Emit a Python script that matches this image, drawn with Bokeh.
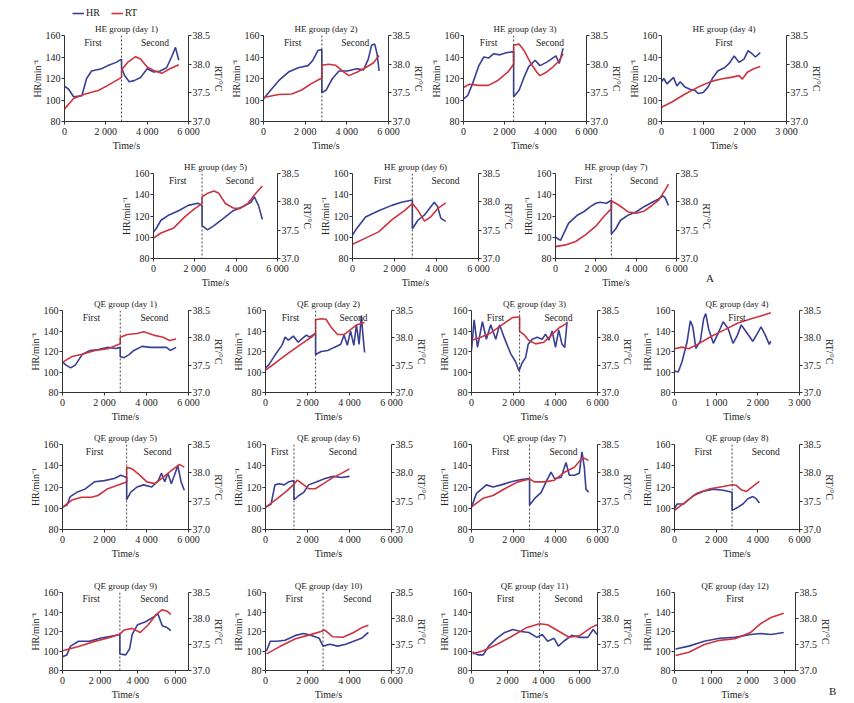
from bokeh.plotting import figure
from bokeh.layouts import column, row
from bokeh.models import Range1d, LinearAxis, FixedTicker, Span, Label, Spacer, Legend, LegendItem, Div
from bokeh.embed import file_html
from bokeh.resources import INLINE

BLUE = "#393f95"
RED = "#cc3440"
INK = "#222222"
FONT = "Liberation Serif"

# ---- axis ticks ----
x_ticks_long = [0, 2000, 4000, 6000]
x_labels_long = ["0", "2 000", "4 000", "6 000"]
x_ticks_short = [0, 1000, 2000, 3000]
x_labels_short = ["0", "1 000", "2 000", "3 000"]
hr_ticks = [80, 100, 120, 140, 160]
rt_ticks = [37.0, 37.5, 38.0, 38.5]
rt_labels = ["37.0", "37.5", "38.0", "38.5"]

# ---- panels: days, split between "First" and "Second", time span ----
he_days = [1, 2, 3, 4, 5, 6, 7]
he_split = [2760, 2800, 2445, None, 2350, 2850, 2770]
he_xmax = [6000, 6000, 6000, 3000, 6000, 6000, 6000]
qe_days = [1, 2, 3, 4, 5, 6, 7, 8, 9, 10, 11, 12]
qe_split = [2750, 2385, 2290, None, 3055, 1355, 2765, 2765, 3050, 2740, 3783, None]
qe_xmax = [6000, 6000, 6000, 3000, 6000, 6000, 6000, 6000, 6700, 6000, 7000, 3300]

# ---- HE group ----
he1_hr_t = [0, 200, 440, 840, 1070, 1310, 1790, 2100, 2500, 2760, 2760, 2900, 3130, 3370, 3680, 4000, 4310, 4630, 4940, 5180, 5370, 5530]
he1_hr = [113, 110, 103, 104, 120, 127, 129, 132, 135, 138, 130, 123, 117, 118, 121, 129, 126, 127, 130, 140, 149, 137]
he1_rt_t = [0, 440, 1000, 1630, 2100, 2760, 2760, 3050, 3440, 3680, 4000, 4310, 4710, 5100, 5530]
he1_rt = [37.22, 37.40, 37.48, 37.54, 37.63, 37.77, 37.90, 38.03, 38.13, 38.09, 37.95, 37.89, 37.84, 37.92, 37.99]

he2_hr_t = [0, 340, 730, 1200, 1670, 2140, 2370, 2610, 2800, 2800, 3000, 3310, 3625, 4015, 4480, 4800, 5030, 5190, 5340, 5450, 5550]
he2_hr = [101, 109, 118, 126, 130, 132, 137, 146, 147, 107, 109, 120, 127, 127, 129, 128, 138, 151, 152, 143, 127]
he2_rt_t = [0, 730, 1360, 1830, 2300, 2800, 2800, 3130, 3470, 3860, 4100, 4480, 4950, 5270, 5550]
he2_rt = [37.42, 37.47, 37.48, 37.55, 37.66, 37.76, 37.98, 38.00, 37.98, 37.86, 37.80, 37.86, 37.95, 38.02, 38.15]

he3_hr_t = [0, 200, 440, 750, 990, 1220, 1460, 1770, 2085, 2445, 2445, 2710, 2950, 3180, 3495, 3730, 4045, 4280, 4510, 4670, 4860]
he3_hr = [101, 104, 115, 132, 140, 139, 143, 142, 144, 145, 103, 109, 121, 131, 137, 132, 135, 138, 141, 134, 148]
he3_rt_t = [0, 280, 750, 1220, 1690, 2160, 2445, 2445, 2710, 2950, 3260, 3575, 3730, 4045, 4360, 4670, 4860]
he3_rt = [37.59, 37.65, 37.63, 37.63, 37.72, 37.86, 38.00, 38.33, 38.35, 38.24, 38.03, 37.86, 37.80, 37.86, 37.95, 38.06, 38.18]

he4_hr_t = [0, 55, 130, 210, 290, 370, 450, 565, 680, 800, 880, 1000, 1115, 1235, 1350, 1510, 1625, 1745, 1860, 1980, 2080, 2175, 2255, 2370]
he4_hr = [117, 120, 115, 118, 121, 113, 117, 112, 110, 109, 106, 107, 112, 121, 127, 130, 134, 141, 135, 138, 146, 143, 140, 144]
he4_rt_t = [0, 250, 565, 880, 1195, 1430, 1665, 1860, 1940, 2060, 2215, 2370]
he4_rt = [37.25, 37.34, 37.48, 37.60, 37.70, 37.74, 37.77, 37.80, 37.74, 37.86, 37.92, 37.96]

he5_hr_t = [0, 125, 360, 750, 1215, 1680, 2150, 2350, 2350, 2615, 2930, 3400, 3860, 4330, 4720, 4880, 5080, 5265]
he5_hr = [105, 108, 116, 121, 125, 130, 132, 130, 111, 107, 111, 118, 125, 129, 133, 138, 130, 117]
he5_rt_t = [0, 360, 980, 1525, 1995, 2350, 2350, 2615, 2930, 3160, 3480, 3860, 4175, 4565, 4880, 5265]
he5_rt = [37.36, 37.45, 37.54, 37.74, 37.88, 37.97, 38.09, 38.15, 38.19, 38.15, 37.97, 37.89, 37.88, 37.97, 38.12, 38.28]

he6_hr_t = [0, 155, 620, 1245, 1870, 2335, 2850, 2850, 3115, 3430, 3740, 3895, 4050, 4205, 4440]
he6_hr = [102, 107, 119, 125, 130, 133, 135, 108, 116, 121, 129, 133, 129, 118, 115]
he6_rt_t = [0, 620, 1245, 1870, 2490, 2850, 3115, 3430, 3740, 4050, 4440]
he6_rt = [37.25, 37.36, 37.47, 37.68, 37.85, 37.97, 37.85, 37.66, 37.74, 37.88, 37.98]

he7_hr_t = [0, 250, 645, 1100, 1400, 1750, 2000, 2200, 2530, 2770, 2770, 2990, 3225, 3620, 4010, 4410, 4800, 5115, 5330, 5440, 5600]
he7_hr = [100, 97, 113, 121, 124, 129, 132, 133, 132, 135, 103, 108, 116, 121, 124, 129, 133, 136, 139, 137, 130]
he7_rt_t = [0, 500, 1000, 1500, 2000, 2400, 2770, 2770, 3150, 3620, 4010, 4410, 4800, 5115, 5440, 5600]
he7_rt = [37.21, 37.24, 37.30, 37.42, 37.57, 37.74, 37.88, 38.02, 37.94, 37.82, 37.80, 37.84, 37.94, 38.03, 38.21, 38.31]

# ---- QE group ----
qe1_hr_t = [0, 155, 390, 620, 930, 1315, 1700, 2165, 2550, 2750, 2750, 2935, 3170, 3400, 3790, 4175, 4640, 4950, 5130, 5410]
qe1_hr = [110, 107, 104, 107, 117, 121, 122, 124, 123, 124, 115, 114, 117, 121, 125, 124, 124, 124, 121, 124]
qe1_rt_t = [0, 460, 930, 1545, 2165, 2750, 2750, 3090, 3555, 3865, 4330, 4790, 5100, 5410]
qe1_rt = [37.55, 37.66, 37.70, 37.77, 37.80, 37.89, 38.01, 38.06, 38.08, 38.11, 38.05, 38.01, 37.95, 37.98]

qe2_hr_t = [0, 155, 470, 780, 935, 1090, 1325, 1560, 1715, 1950, 2100, 2385, 2385, 2650, 2960, 3270, 3585, 3740, 3895, 4050, 4205, 4330, 4455, 4565, 4640, 4720]
qe2_hr = [104, 107, 117, 126, 134, 131, 135, 129, 132, 136, 134, 138, 117, 120, 121, 124, 127, 136, 126, 140, 126, 146, 127, 155, 136, 119]
qe2_rt_t = [0, 470, 1090, 1715, 2180, 2385, 2385, 2650, 2880, 3115, 3430, 3740, 4050, 4360, 4720]
qe2_rt = [37.41, 37.54, 37.72, 37.89, 38.01, 38.08, 38.33, 38.35, 38.34, 38.20, 38.06, 38.06, 38.15, 38.24, 38.28]

qe3_hr_t = [0, 125, 285, 520, 710, 915, 1155, 1340, 1550, 1705, 1865, 2100, 2260, 2415, 2575, 2700, 2890, 3130, 3365, 3525, 3680, 3840, 4000, 4155, 4310, 4440, 4550]
qe3_hr = [121, 151, 124, 149, 132, 146, 132, 146, 134, 126, 118, 110, 101, 109, 114, 127, 132, 134, 132, 137, 131, 140, 124, 141, 127, 124, 149]
qe3_rt_t = [0, 440, 915, 1470, 1945, 2230, 2290, 2290, 2500, 2735, 3050, 3445, 3760, 4155, 4550]
qe3_rt = [37.95, 38.01, 38.09, 38.24, 38.37, 38.38, 38.38, 38.12, 38.06, 37.95, 37.89, 37.92, 38.03, 38.18, 38.27]

qe4_hr_t = [0, 90, 180, 300, 379, 440, 513, 620, 700, 750, 820, 931, 1050, 1168, 1280, 1405, 1500, 1602, 1740, 1878, 1980, 2076, 2180, 2273, 2313]
qe4_hr = [101, 100, 110, 129, 150, 144, 123, 130, 152, 157, 142, 128, 138, 149, 143, 128, 135, 146, 138, 130, 137, 144, 136, 127, 130]
qe4_rt_t = [0, 180, 340, 575, 890, 1210, 1525, 1840, 2075, 2313]
qe4_rt = [37.80, 37.83, 37.80, 37.89, 38.03, 38.15, 38.27, 38.35, 38.40, 38.46]

qe5_hr_t = [0, 215, 370, 680, 1070, 1535, 2000, 2465, 2775, 3055, 3055, 3240, 3550, 3860, 4250, 4560, 4715, 4870, 5020, 5180, 5330, 5490, 5645, 5800]
qe5_hr = [101, 103, 111, 115, 118, 125, 126, 128, 131, 129, 108, 115, 120, 122, 120, 126, 133, 125, 133, 123, 131, 140, 125, 117]
qe5_rt_t = [0, 450, 915, 1380, 1690, 2155, 2620, 3055, 3055, 3320, 3705, 4015, 4400, 4790, 5180, 5565, 5800]
qe5_rt = [37.39, 37.52, 37.57, 37.57, 37.60, 37.72, 37.78, 37.84, 38.10, 38.07, 37.95, 37.84, 37.81, 37.92, 38.04, 38.15, 38.10]

qe6_hr_t = [0, 265, 450, 655, 890, 1120, 1355, 1355, 1590, 1820, 2055, 2445, 2835, 3225, 3615, 4000]
qe6_hr = [101, 104, 122, 123, 122, 125, 126, 108, 112, 115, 122, 125, 128, 130, 129, 130]
qe6_rt_t = [0, 575, 1045, 1355, 1510, 1745, 2055, 2370, 2760, 3225, 3615, 4000]
qe6_rt = [37.39, 37.55, 37.69, 37.80, 37.87, 37.81, 37.72, 37.72, 37.81, 37.92, 37.99, 38.07]

qe7_hr_t = [0, 235, 475, 710, 1025, 1420, 1895, 2370, 2765, 2765, 3000, 3320, 3555, 3790, 3950, 4265, 4500, 4660, 4900, 5135, 5260, 5370, 5450, 5575]
qe7_hr = [101, 114, 118, 122, 120, 122, 125, 127, 128, 103, 109, 115, 125, 134, 128, 129, 143, 131, 131, 133, 153, 139, 118, 115]
qe7_rt_t = [0, 550, 1025, 1580, 2210, 2765, 3000, 3475, 3950, 4425, 4900, 5290, 5575]
qe7_rt = [37.40, 37.55, 37.60, 37.72, 37.84, 37.89, 37.84, 37.84, 37.87, 38.01, 38.10, 38.27, 38.22]

qe8_hr_t = [0, 125, 440, 915, 1390, 1865, 2340, 2765, 2765, 3050, 3285, 3520, 3760, 3920, 4075]
qe8_hr = [100, 104, 104, 112, 116, 118, 117, 115, 98, 101, 104, 109, 111, 109, 105]
qe8_rt_t = [0, 440, 1075, 1705, 2340, 2765, 2970, 3205, 3440, 3760, 4075]
qe8_rt = [37.34, 37.46, 37.64, 37.72, 37.76, 37.79, 37.78, 37.70, 37.67, 37.76, 37.85]

qe9_hr_t = [0, 228, 428, 855, 1425, 1996, 2566, 3050, 3050, 3364, 3564, 3706, 3991, 4419, 4847, 5075, 5303, 5560, 5760]
qe9_hr = [94, 96, 105, 110, 110, 113, 115, 117, 97, 96, 102, 117, 127, 130, 135, 138, 126, 124, 121]
qe9_rt_t = [0, 855, 1710, 2566, 3050, 3279, 3706, 4134, 4562, 4990, 5303, 5560, 5760]
qe9_rt = [37.38, 37.46, 37.56, 37.64, 37.70, 37.78, 37.81, 37.73, 37.88, 38.08, 38.17, 38.14, 38.08]

qe10_hr_t = [50, 225, 550, 930, 1430, 1810, 2185, 2560, 2740, 3065, 3440, 3820, 4195, 4570, 4900]
qe10_hr = [100, 110, 110, 111, 116, 118, 116, 113, 105, 107, 105, 107, 110, 113, 119]
qe10_rt_t = [50, 680, 1430, 2060, 2640, 2815, 3190, 3690, 4195, 4570, 4900]
qe10_rt = [37.32, 37.46, 37.61, 37.68, 37.75, 37.78, 37.65, 37.64, 37.73, 37.82, 37.87]

qe11_hr_t = [60, 357, 655, 953, 1400, 1847, 2294, 2740, 3187, 3634, 3932, 4230, 4587, 4826, 5123, 5570, 6017, 6464, 6762, 6970]
qe11_hr = [99, 96, 96, 105, 113, 119, 122, 120, 119, 114, 117, 110, 113, 105, 110, 116, 114, 114, 122, 117]
qe11_rt_t = [60, 655, 1400, 2145, 3038, 3783, 4230, 4826, 5421, 6017, 6613, 6970]
qe11_rt = [37.32, 37.38, 37.50, 37.64, 37.82, 37.90, 37.88, 37.76, 37.64, 37.67, 37.82, 37.88]

qe12_hr_t = [28, 392, 811, 1230, 1650, 2070, 2350, 2630, 2980]
qe12_hr = [102, 105, 110, 113, 114, 117, 118, 117, 119]
qe12_rt_t = [28, 392, 811, 1230, 1650, 2070, 2350, 2630, 2980]
qe12_rt = [37.29, 37.35, 37.50, 37.58, 37.61, 37.73, 37.90, 38.02, 38.10]

he_series = [
    (he1_hr_t, he1_hr, he1_rt_t, he1_rt), (he2_hr_t, he2_hr, he2_rt_t, he2_rt),
    (he3_hr_t, he3_hr, he3_rt_t, he3_rt), (he4_hr_t, he4_hr, he4_rt_t, he4_rt),
    (he5_hr_t, he5_hr, he5_rt_t, he5_rt), (he6_hr_t, he6_hr, he6_rt_t, he6_rt),
    (he7_hr_t, he7_hr, he7_rt_t, he7_rt),
]
qe_series = [
    (qe1_hr_t, qe1_hr, qe1_rt_t, qe1_rt), (qe2_hr_t, qe2_hr, qe2_rt_t, qe2_rt),
    (qe3_hr_t, qe3_hr, qe3_rt_t, qe3_rt), (qe4_hr_t, qe4_hr, qe4_rt_t, qe4_rt),
    (qe5_hr_t, qe5_hr, qe5_rt_t, qe5_rt), (qe6_hr_t, qe6_hr, qe6_rt_t, qe6_rt),
    (qe7_hr_t, qe7_hr, qe7_rt_t, qe7_rt), (qe8_hr_t, qe8_hr, qe8_rt_t, qe8_rt),
    (qe9_hr_t, qe9_hr, qe9_rt_t, qe9_rt), (qe10_hr_t, qe10_hr, qe10_rt_t, qe10_rt),
    (qe11_hr_t, qe11_hr, qe11_rt_t, qe11_rt), (qe12_hr_t, qe12_hr, qe12_rt_t, qe12_rt),
]

panels = []
for d, s, xm, ser in zip(he_days, he_split, he_xmax, he_series):
    panels.append(("HE group (day %d)" % d, s, xm) + ser)
for d, s, xm, ser in zip(qe_days, qe_split, qe_xmax, qe_series):
    panels.append(("QE group (day %d)" % d, s, xm) + ser)

LEFT = 34
FRAME_W = 128


def style_axis(ax, label):
    ax.axis_label = label
    ax.axis_label_text_font = FONT
    ax.axis_label_text_font_size = "10px"
    ax.axis_label_text_font_style = "normal"
    ax.axis_label_text_color = INK
    ax.axis_label_standoff = 0
    ax.major_label_text_font = FONT
    ax.major_label_text_font_size = "10px"
    ax.major_label_text_color = INK
    ax.major_label_standoff = 1
    ax.axis_line_color = "#333333"
    ax.major_tick_line_color = "#333333"
    ax.major_tick_out = 3
    ax.major_tick_in = 0
    ax.minor_tick_line_color = None


def make_panel(spec, width, top, frame_h, bottom):
    title, split, xmax, hr_t, hr, rt_t, rt = spec
    right = width - LEFT - FRAME_W
    p = figure(width=width, height=top + frame_h + bottom,
               x_range=Range1d(0, xmax), y_range=Range1d(80, 160),
               output_backend="svg", toolbar_location=None, title=title,
               min_border_left=LEFT, min_border_right=right,
               min_border_top=top, min_border_bottom=bottom)
    p.extra_y_ranges = {"rt": Range1d(37.0, 38.5)}
    p.add_layout(LinearAxis(y_range_name="rt"), "right")
    p.grid.visible = False
    p.outline_line_color = None
    p.background_fill_color = "white"
    p.border_fill_color = "white"

    p.title.text_font = FONT
    p.title.text_font_size = "9px"
    p.title.text_font_style = "normal"
    p.title.text_color = INK
    p.title.align = "center"
    p.title.standoff = 3

    if xmax > 4000:
        ticks, labels = x_ticks_long, x_labels_long
    else:
        ticks, labels = x_ticks_short, x_labels_short
    xa = p.below[0]
    style_axis(xa, "Time/s")
    xa.ticker = FixedTicker(ticks=ticks)
    xa.major_label_overrides = dict(zip(ticks, labels))

    ya = p.left[0]
    style_axis(ya, "HR/min⁻¹")
    ya.ticker = FixedTicker(ticks=hr_ticks)

    ra = p.right[0]
    style_axis(ra, "RT/°C")
    ra.ticker = FixedTicker(ticks=rt_ticks)
    ra.major_label_overrides = dict(zip(rt_ticks, rt_labels))

    p.line(hr_t, hr, color=BLUE, line_width=1.6)
    p.line(rt_t, rt, color=RED, line_width=1.6, y_range_name="rt")

    txt = dict(y=153, text_align="center", text_baseline="middle",
               text_font=FONT, text_font_size="9.5px", text_color=INK)
    if split is not None:
        p.add_layout(Span(location=split, dimension="height", line_color="#444444",
                          line_width=1, line_dash="2 2"))
        p.add_layout(Label(x=split / 2, text="First", **txt))
        p.add_layout(Label(x=(split + xmax) / 2, text="Second", **txt))
    else:
        p.add_layout(Label(x=xmax / 2, text="First", **txt))
    return p


def letter_box(text, width, height, top, shift):
    # the sub-figure letter, sitting on the line of the last "Time/s"
    html = ('<div style="position:relative;top:%dpx;left:%dpx;font-family:\'Liberation Serif\';'
            'font-size:11px;line-height:13px;color:#222222;">%s</div>' % (top, shift, text))
    return Div(text=html, width=width, height=height, margin=0)


# legend strip above the first panel (its lines lie outside the strip's ranges,
# only the legend glyphs show)
lg = figure(width=80, height=18, output_backend="svg", toolbar_location=None,
            x_range=Range1d(-2, -1), y_range=Range1d(-2, -1),
            x_axis_type=None, y_axis_type=None, min_border=0)
lg.outline_line_color = None
lg.grid.visible = False
r_hr = lg.line(he1_hr_t, he1_hr, color=BLUE, line_width=1.6)
r_rt = lg.line(he1_rt_t, he1_rt, color=RED, line_width=1.6)
lg.add_layout(Legend(items=[LegendItem(label="HR", renderers=[r_hr]),
                            LegendItem(label="RT", renderers=[r_rt])],
                     location=(0, 0), orientation="horizontal",
                     border_line_color=None, background_fill_alpha=0,
                     label_text_font=FONT, label_text_font_size="10px", label_text_color=INK,
                     glyph_width=12, glyph_height=10, label_height=10, label_standoff=2,
                     spacing=5, padding=0, margin=0))

# rows: panel indices, left spacer, figure widths, top border, frame height, bottom border
row_specs = [
    ([0, 1, 2, 3], 28, [199, 200, 198, 200], 17, 86, 32),
    ([4, 5, 6], 117, [199, 203, 196], 20, 85, 32),
    ([7, 8, 9, 10], 26, [203, 206, 203, 200], 20, 86, 28),
    ([11, 12, 13, 14], 26, [203, 206, 203, 200], 20, 85, 43),
    ([15, 16, 17, 18], 26, [203, 206, 203, 196], 20, 83, 27),
]

rows = [row(Spacer(width=72, height=18), lg)]
for k, (idxs, spacer, widths, top, fh, bottom) in enumerate(row_specs):
    h = top + fh + bottom
    items = [Spacer(width=spacer, height=h)]
    for i, w in zip(idxs, widths):
        items.append(make_panel(panels[i], w, top, fh, bottom))
    if k == 1:
        items.append(letter_box("A", 20, h, h - 20, -9))
    if k == 4:
        items.append(letter_box("B", 14, h, h - 19, -5))
    rows.append(row(*items))

layout = column(*rows)
open("out.html", "w").write(file_html(layout, INLINE))
